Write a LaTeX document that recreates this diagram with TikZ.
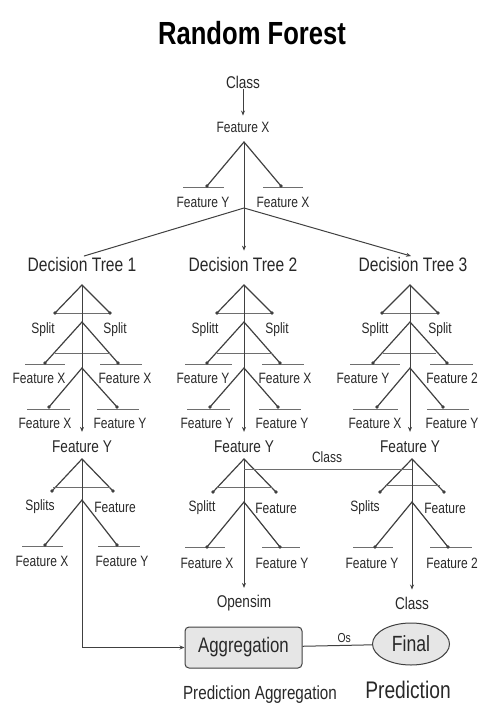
\documentclass[tikz,border=0pt]{standalone}
\usepackage{fontspec}
\setmainfont{Liberation Sans}[FakeStretch=0.8]
\usetikzlibrary{arrows.meta,shapes.geometric}

\begin{document}
\begin{tikzpicture}[x=1pt,y=-1pt,
  lbl/.style={font=\fontsize{15}{15}\selectfont, text=txtc, inner sep=1pt},
  midlbl/.style={font=\fontsize{17}{17}\selectfont, text=txtc, inner sep=1pt},
  biglbl/.style={font=\fontsize{19.5}{19.5}\selectfont, text=txtc, inner sep=1pt},
  leg/.style={draw=linec, line width=1.2pt},
  bar/.style={draw=barc, line width=0.9pt},
  arr/.style={draw=linec, line width=1pt, -{Stealth[length=5pt,width=4pt]}},
  dot/.style={fill=linec}]
\definecolor{linec}{HTML}{404040}
\definecolor{barc}{HTML}{6E6E6E}
\definecolor{txtc}{HTML}{282828}
\definecolor{boxc}{HTML}{E6E6E6}
\useasboundingbox (0,0) rectangle (480,711);

\node[font=\fontsize{32}{32}\selectfont\bfseries, inner sep=0pt] (title) at (252,33) {Random Forest};

% root split
\node[midlbl] (cls) at (243,82) {Class};
\node[lbl] (fx) at (243,127) {Feature X};
\draw[arr, shorten >=5pt] (cls) -- (fx);
\coordinate (a0) at (244,142);
\draw[leg] (207,186) -- (a0) -- (281,186);
\draw[bar] (183,187) -- (224,187) (263,187) -- (303,187);
\fill[dot] (207,186) circle (1.8pt) (281,186) circle (1.8pt);
\node[lbl] (fy0) at (203,202) {Feature Y};
\node[lbl] (fx0) at (283,202) {Feature X};

\node[biglbl] (dt1) at (82,265) {Decision Tree 1};
\node[biglbl] (dt2) at (243,265) {Decision Tree 2};
\node[biglbl] (dt3) at (413,265) {Decision Tree 3};
\coordinate (br) at (244,208);
\draw[arr, shorten >=6pt] (a0) -- (a0 |- dt2.north);
\draw[leg, line width=1pt, shorten >=2pt] (br) -- (dt1.north);
\draw[arr, shorten >=2pt] (br) -- (dt3.north);

% decision tree 1
\draw[leg] (55,313) -- (82,285) -- (110,313);
\draw[bar] (55,313) -- (110,313);
\fill[dot] (55,313) circle (1.8pt) (110,313) circle (1.8pt);
\node[lbl] (s11) at (43,330) {Split};
\node[lbl] (s12) at (115,330) {Split};
\draw[leg] (45,363) -- (82,322) -- (118,363);
\draw[bar] (55,353) -- (110,353) (25,364) -- (65,364) (100,364) -- (142,364);
\fill[dot] (45,363) circle (1.8pt) (118,363) circle (1.8pt);
\node[lbl] (f11) at (39,378) {Feature X};
\node[lbl] (f12) at (125,378) {Feature X};
\draw[leg] (49,407) -- (82,368) -- (117,407);
\draw[bar] (27,409) -- (70,409) (97,409) -- (139,409);
\fill[dot] (49,407) circle (1.8pt) (117,407) circle (1.8pt);
\node[lbl] (f13) at (45,423) {Feature X};
\node[lbl] (f14) at (120,423) {Feature Y};
\node[midlbl] (fy1) at (82,447) {Feature Y};
\draw[arr, shorten >=8pt] (82,285) -- (fy1.north);

% decision tree 2
\draw[leg] (217,313) -- (244,285) -- (272,313);
\draw[bar] (217,313) -- (272,313);
\fill[dot] (217,313) circle (1.8pt) (272,313) circle (1.8pt);
\node[lbl] (s21) at (205,330) {Splitt};
\node[lbl] (s22) at (277,330) {Split};
\draw[leg] (207,363) -- (244,322) -- (280,363);
\draw[bar] (217,353) -- (272,353) (185,364) -- (232,364) (262,364) -- (304,364);
\fill[dot] (207,363) circle (1.8pt) (280,363) circle (1.8pt);
\node[lbl] (f21) at (203,378) {Feature Y};
\node[lbl] (f22) at (285,378) {Feature X};
\draw[leg] (210,407) -- (244,368) -- (278,407);
\draw[bar] (187,409) -- (230,409) (259,409) -- (301,409);
\fill[dot] (210,407) circle (1.8pt) (278,407) circle (1.8pt);
\node[lbl] (f23) at (207,423) {Feature Y};
\node[lbl] (f24) at (282,423) {Feature Y};
\node[midlbl] (fy2) at (244,447) {Feature Y};
\draw[arr, shorten >=8pt] (244,285) -- (fy2.north);

% decision tree 3
\draw[leg] (382,313) -- (410,285) -- (438,313);
\draw[bar] (382,313) -- (438,313);
\fill[dot] (382,313) circle (1.8pt) (438,313) circle (1.8pt);
\node[lbl] (s31) at (375,330) {Splitt};
\node[lbl] (s32) at (440,330) {Split};
\draw[leg] (373,363) -- (410,322) -- (447,363);
\draw[bar] (383,353) -- (436,353) (350,364) -- (400,364) (430,364) -- (473,364);
\fill[dot] (373,363) circle (1.8pt) (447,363) circle (1.8pt);
\node[lbl] (f31) at (363,378) {Feature Y};
\node[lbl] (f32) at (452,378) {Feature 2};
\draw[leg] (377,407) -- (410,368) -- (443,407);
\draw[bar] (353,409) -- (398,409) (427,409) -- (469,409);
\fill[dot] (377,407) circle (1.8pt) (443,407) circle (1.8pt);
\node[lbl] (f33) at (375,423) {Feature X};
\node[lbl] (f34) at (452,423) {Feature Y};
\node[midlbl] (fy3) at (410,447) {Feature Y};
\draw[arr, shorten >=8pt] (410,285) -- (fy3.north);

% lower tree 1
\draw[leg] (52,491) -- (82,459) -- (113,491);
\draw[bar] (53,487) -- (110,487);
\fill[dot] (52,491) circle (1.8pt) (113,491) circle (1.8pt);
\node[lbl] (s41) at (40,507) {Splits};
\node[lbl] (s42) at (115,507) {Feature};
\draw[leg] (45,545) -- (82,500) -- (117,545);
\draw[bar] (22,546) -- (63,546) (98,546) -- (140,546);
\fill[dot] (45,545) circle (1.8pt) (117,545) circle (1.8pt);
\node[lbl] (f41) at (42,561) {Feature X};
\node[lbl] (f42) at (122,561) {Feature Y};

% lower tree 2
\draw[leg] (213,492) -- (244,459) -- (276,492);
\draw[bar] (217,487) -- (272,487);
\fill[dot] (213,492) circle (1.8pt) (276,492) circle (1.8pt);
\node[lbl] (s51) at (202,508) {Splitt};
\node[lbl] (s52) at (276,508) {Feature};
\draw[leg] (207,547) -- (244,502) -- (280,547);
\draw[bar] (185,547) -- (225,547) (262,547) -- (300,547);
\fill[dot] (207,547) circle (1.8pt) (280,547) circle (1.8pt);
\node[lbl] (f51) at (207,563) {Feature X};
\node[lbl] (f52) at (282,563) {Feature Y};
\node[midlbl] (ops) at (244,603) {Opensim};
\draw[arr, shorten >=6pt] (244,459) -- (ops.north);

% lower tree 3
\draw[leg] (380,492) -- (412,459) -- (444,492);
\draw[bar] (385,485) -- (440,485);
\fill[dot] (380,492) circle (1.8pt) (444,492) circle (1.8pt);
\node[lbl] (s61) at (365,508) {Splits};
\node[lbl] (s62) at (445,508) {Feature};
\draw[leg] (375,547) -- (412,502) -- (448,547);
\draw[bar] (353,547) -- (393,547) (430,547) -- (472,547);
\fill[dot] (375,547) circle (1.8pt) (448,547) circle (1.8pt);
\node[lbl] (f61) at (372,563) {Feature Y};
\node[lbl] (f62) at (452,563) {Feature 2};
\node[midlbl] (cls2) at (412,603) {Class};
\draw[arr, shorten >=6pt] (412,459) -- (cls2.north);

% class link
\draw[bar] (244,469) -- (412,469);
\node[lbl] (clsl) at (327,457) {Class};

% aggregation
\node[draw=linec, line width=1pt, fill=boxc, rounded corners=4pt, minimum width=117pt, minimum height=41pt,
  font=\fontsize{21}{21}\selectfont, text=txtc] (agg) at (243.5,647.5) {Aggregation};
\node[ellipse, draw=linec, line width=1pt, fill=boxc, minimum width=77pt, minimum height=42pt, inner sep=0pt,
  font=\fontsize{22}{22}\selectfont, text=txtc] (fin) at (411,644) {Final};
\draw[leg, line width=1pt] (agg) -- node[pos=0.6, above, font=\fontsize{13}{13}\selectfont, text=txtc, inner sep=2pt] {Os} (fin);
\draw[arr] (82,459) |- (agg.west);
\node[font=\fontsize{19}{19}\selectfont, text=txtc] (pagg) at (260,695) {Prediction Aggregation};
\node[font=\fontsize{24}{24}\selectfont, text=txtc] (pred) at (408,690) {Prediction};
\end{tikzpicture}
\end{document}
